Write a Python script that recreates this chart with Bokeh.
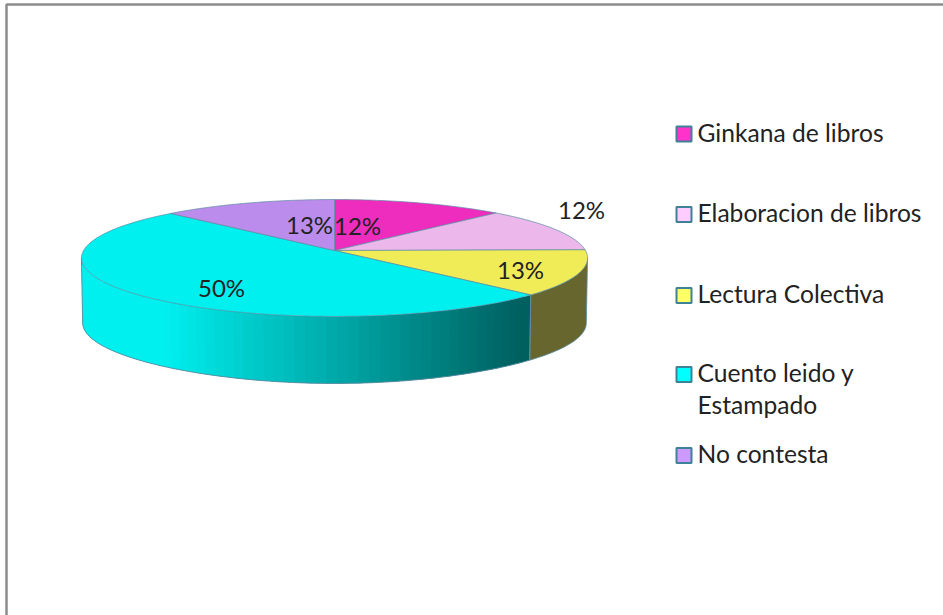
import math
from bokeh.embed import file_html
from bokeh.models import ColumnDataSource, Range1d
from bokeh.plotting import figure
from bokeh.resources import INLINE
from bokeh.core.properties import value

CATEGORIES = ["Ginkana de libros", "Elaboracion de libros", "Lectura Colectiva", "Cuento leido y\nEstampado", "No contesta"]
VALUES = [12.4, 12.4, 12.6, 50.0, 12.6]
TOP_COLORS = ["#EE2DBE", "#ECB8EC", "#F0EC58", "#00F0F0", "#BC8CEC"]
LEGEND_COLORS = ["#FF33CC", "#FFCCFF", "#FFFF66", "#00FFFF", "#CC99FF"]

# layout
HUB_X, HUB_Y, RX, RY, PERSP, DEPTH = 334, 250, 251, 57.5, 0.128, 65
LABEL_XY = [(357, 224.5), (581, 208.5), (520, 268.5), (221, 286.5), (309, 223.5)]
LEGEND_Y = [131.5, 212, 293, 372, 453]
LEGEND_SQUARE_Y = [133.5, 214, 295, 374, 455]
LEGEND_X, LEGEND_TEXT_X, LEGEND_LINE = 683.5, 697, 32
FONT = "Lato"
EDGE = "#5B8AA0"


def top(theta):
    t = math.radians(theta)
    w = 1 + PERSP * math.cos(t)
    return HUB_X + RX * math.sin(t) / w, HUB_Y - RY * math.cos(t) / w


def bottom(theta):
    x, y = top(theta)
    return HUB_X + (x - HUB_X) * 0.995, y + DEPTH + 2 * max(0.0, -math.cos(math.radians(theta))) ** 6


def steps(a, b, n):
    return [a + (b - a) * i / n for i in range(n + 1)]


def wall_shade(x):
    f = min(1.0, max(0.0, (x - 170) / (525 - 170)))
    c = round(240 + (96 - 240) * f)
    return f"#00{c:02X}{c:02X}"


p = figure(width=943, height=615, output_backend="svg", toolbar_location=None,
           x_range=Range1d(0, 943), y_range=Range1d(615, 0), min_border=0,
           x_axis_type=None, y_axis_type=None, outline_line_color=None,
           background_fill_color="white", border_fill_color="white")
p.grid.visible = False
p.styles = {"position": "absolute", "left": "0", "top": "0"}

# picture frame (top and left only, as in the reference)
p.line([943, 6, 6], [4, 4, 615], line_color="#8C8C8C", line_width=2.5)

# slice boundaries in degrees, clockwise from the back of the pie
total = sum(VALUES)
bounds = [0.0]
for v in VALUES:
    bounds.append(bounds[-1] + 360.0 * v / total)

lect_end = bounds[3]
right_extreme = math.degrees(math.acos(-PERSP))
left_extreme = 360 - right_extreme

# cuento wall: shaded strips, each running on under the next so no seam shows
strip_n = 60
ths = steps(lect_end, left_extreme, strip_n)
xs, ys, cs = [], [], []
for i in range(strip_n - 1, -1, -1):
    a, b = ths[i], ths[strip_n if i > strip_n - 3 else i + 2]
    # painted from the left end of the wall back towards the right
    t_pts = [top(t) for t in steps(a, b, 4)]
    b_pts = [bottom(t) for t in steps(a, b, 4)]
    xs.append([q[0] for q in t_pts] + [q[0] for q in reversed(b_pts)])
    ys.append([q[1] for q in t_pts] + [q[1] for q in reversed(b_pts)])
    cs.append(wall_shade(top((ths[i] + ths[i + 1]) / 2)[0]))
p.patches(xs, ys, fill_color=cs, line_color=None)

# lectura wall
w_ths = steps(right_extreme, lect_end, 24)
wx = [top(t)[0] for t in w_ths] + [bottom(t)[0] for t in reversed(w_ths)]
wy = [top(t)[1] for t in w_ths] + [bottom(t)[1] for t in reversed(w_ths)]
p.patch(wx, wy, fill_color="#66662E", line_color=EDGE, line_width=0.8)

# outline of the cuento wall
c_ths = steps(lect_end, left_extreme, 70)
ox = [top(c_ths[0])[0]] + [bottom(t)[0] for t in c_ths] + [top(c_ths[-1])[0]]
oy = [top(c_ths[0])[1]] + [bottom(t)[1] for t in c_ths] + [top(c_ths[-1])[1]]
p.line(ox, oy, line_color=EDGE, line_width=0.9)

# top faces
for i in range(len(VALUES)):
    th = steps(bounds[i], bounds[i + 1], 40)
    px = [HUB_X] + [top(t)[0] for t in th]
    py = [HUB_Y] + [top(t)[1] for t in th]
    p.patch(px, py, fill_color=TOP_COLORS[i], line_color=EDGE, line_width=0.8, line_alpha=0.85)

# data labels
labels = ColumnDataSource(dict(
    x=[xy[0] for xy in LABEL_XY], y=[xy[1] for xy in LABEL_XY],
    t=[f"{round(v)}%" for v in VALUES]))
p.text("x", "y", "t", source=labels, text_font=value(FONT), text_font_size="24px",
       text_color="#222222", text_align="center", text_baseline="middle")

# legend
p.rect([LEGEND_X] * len(LEGEND_SQUARE_Y), LEGEND_SQUARE_Y, width=15, height=15,
       fill_color=LEGEND_COLORS, line_color="#3D8296", line_width=2)
tx, ty, tt = [], [], []
for y, name in zip(LEGEND_Y, CATEGORIES):
    for j, part in enumerate(name.split("\n")):
        tx.append(LEGEND_TEXT_X)
        ty.append(y + j * LEGEND_LINE)
        tt.append(part)
p.text(tx, ty, text=tt, text_font=value(FONT), text_font_size="24.6px",
       text_color="#222222", text_align="left", text_baseline="middle")

open("out.html", "w").write(file_html(p, INLINE))
